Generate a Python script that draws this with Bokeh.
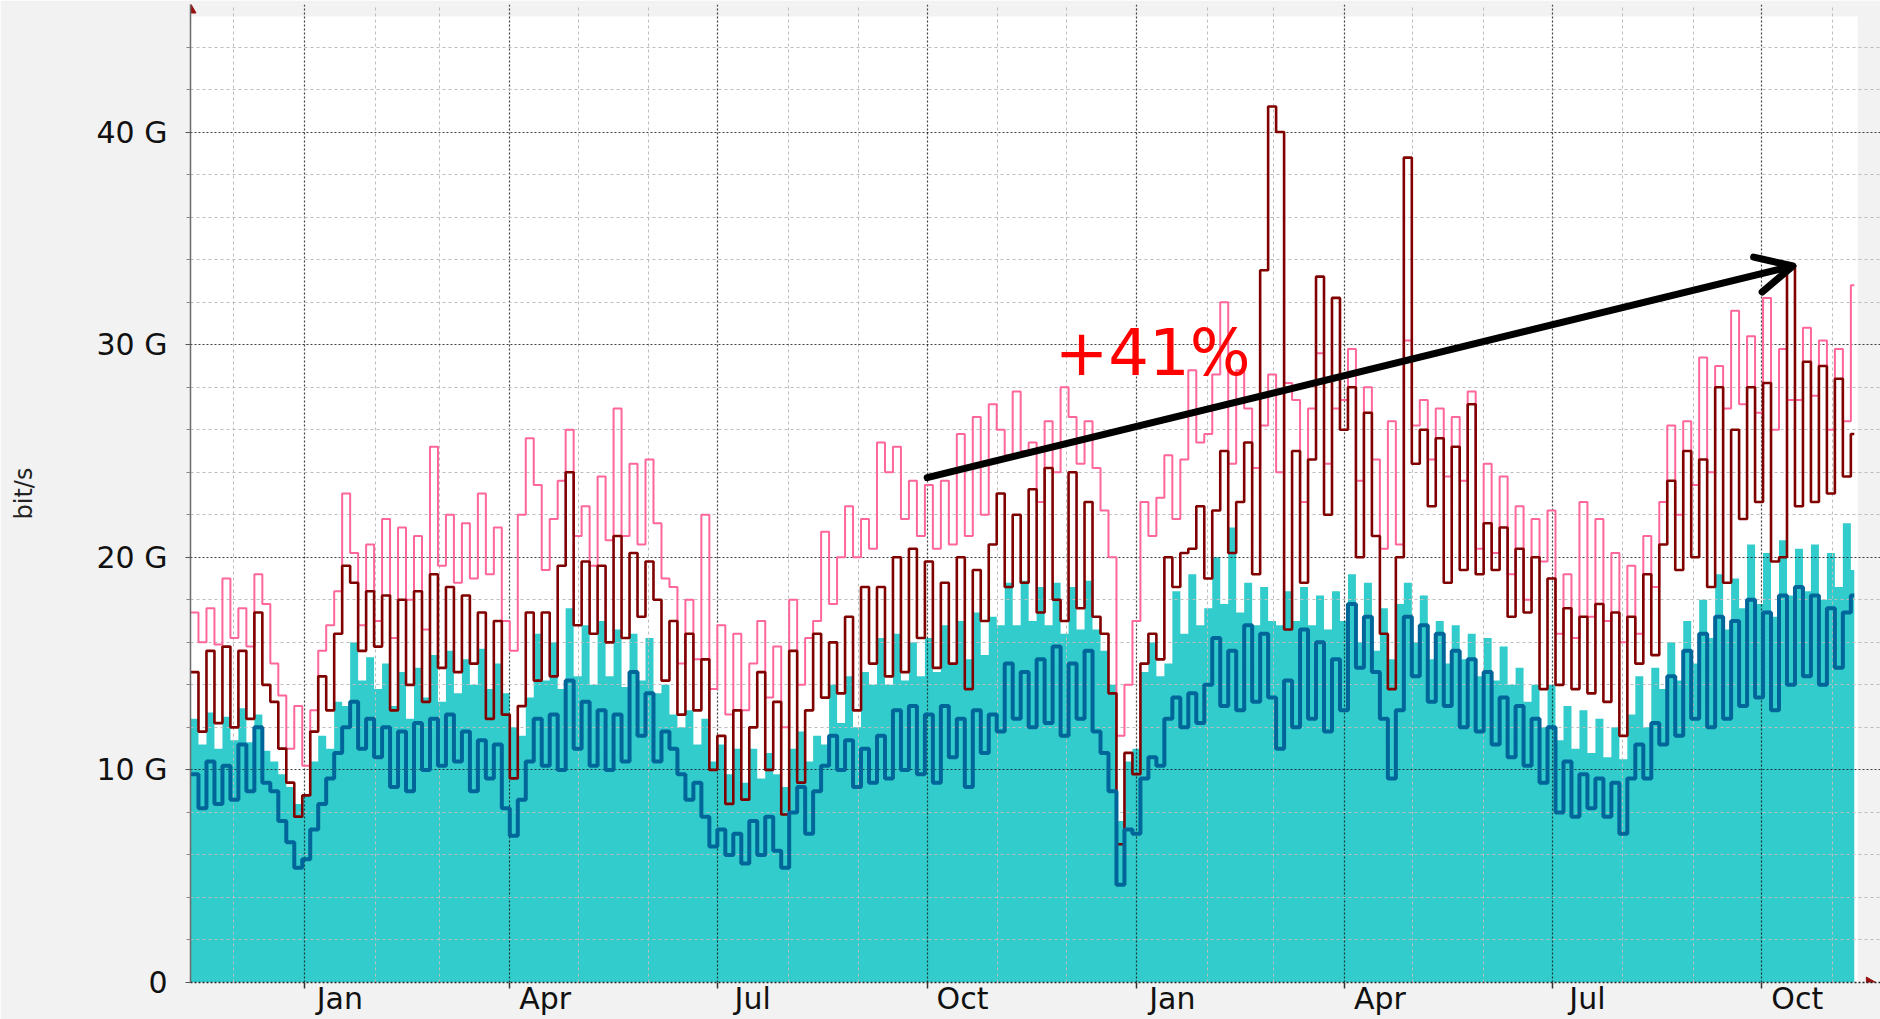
import numpy as np
import pandas as pd
from bokeh.plotting import figure
from bokeh.models import Range1d, FixedTicker, Label, Arrow, OpenHead
from bokeh.embed import file_html
from bokeh.resources import INLINE

# ---------------- data ----------------
START = pd.Timestamp("2010-11-12")
END = pd.Timestamp("2012-11-10 12:00")
STEP_DAYS = 3.5  # one value every half week

# inbound maximum (cyan area), G bit/s
max_in = [
    12.4, 11.2, 12.7, 11.0, 12.5, 11.4, 12.9, 11.3, 12.6, 10.9,
    10.4, 9.8, 9.2, 8.4, 8.8, 10.4, 11.6, 11.0, 13.2, 13.0,
    16.0, 14.2, 15.3, 13.8, 15.0, 13.0, 14.6, 12.4, 14.8, 13.4,
    15.4, 13.2, 15.6, 13.6, 15.2, 14.0, 15.7, 13.8, 15.0, 13.6,
    12.0, 11.6, 13.4, 16.4, 14.2, 16.0, 13.8, 17.6, 14.4, 16.8,
    14.0, 17.0, 14.4, 16.6, 13.9, 16.4, 14.2, 16.2, 13.6, 14.0,
    12.6, 12.0, 12.8, 11.2, 12.4, 10.4, 11.2, 9.8, 11.0, 9.4,
    11.0, 9.6, 10.8, 9.8, 9.2, 11.0, 11.8, 10.4, 11.6, 11.2,
    14.0, 12.2, 14.4, 12.0, 14.6, 14.0, 16.2, 14.0, 16.4, 14.2,
    16.0, 14.4, 16.2, 14.6, 16.8, 15.0, 17.0, 15.2, 17.4, 15.4,
    17.2, 16.8, 18.8, 16.8, 18.9, 17.0, 18.6, 16.8, 18.8, 16.4,
    18.6, 16.6, 18.9, 16.6, 15.6, 14.0, 7.6, 10.4, 11.0, 14.6,
    16.0, 14.4, 15.0, 18.4, 16.4, 19.2, 16.8, 17.6, 20.0, 17.8,
    21.4, 17.4, 18.8, 16.8, 18.6, 17.0, 16.8, 18.4, 17.0, 18.6,
    16.8, 18.2, 16.6, 18.4, 17.0, 19.2, 16.0, 18.8, 15.6, 17.6,
    15.2, 17.8, 18.8, 16.0, 18.2, 15.2, 17.0, 15.0, 16.8, 15.2,
    16.4, 14.4, 16.2, 14.2, 15.8, 14.0, 14.8, 13.2, 14.0, 12.0,
    14.0, 11.4, 13.0, 11.0, 12.8, 10.8, 12.4, 10.6, 12.0, 10.5,
    12.6, 14.4, 12.0, 14.8, 13.8, 16.0, 14.2, 17.0, 15.0, 18.0,
    16.2, 19.2, 16.6, 19.0, 17.6, 20.6, 17.8, 20.2, 17.2, 20.8,
    18.2, 20.4, 18.4, 20.6, 18.0, 20.2, 18.6, 21.6, 19.4,
]

# inbound average (dark blue line)
avg_in = [
    9.8, 8.2, 10.4, 8.4, 10.2, 8.6, 11.2, 9.0, 12.0, 9.4,
    9.0, 7.6, 6.6, 5.4, 5.8, 7.2, 8.4, 9.6, 10.8, 12.0,
    13.2, 11.0, 12.4, 10.6, 12.0, 9.2, 11.8, 9.0, 12.2, 10.0,
    12.4, 10.2, 12.6, 10.4, 11.8, 9.0, 11.4, 9.6, 11.2, 8.2,
    6.9, 8.6, 10.4, 12.4, 10.2, 12.6, 10.0, 14.2, 11.0, 13.2,
    10.2, 12.8, 10.0, 12.6, 10.4, 14.6, 11.6, 13.6, 10.4, 11.8,
    11.0, 9.8, 8.6, 9.4, 7.8, 6.4, 7.2, 6.0, 7.0, 5.6,
    7.6, 6.0, 7.8, 6.2, 5.4, 8.0, 9.2, 7.0, 9.0, 10.2,
    11.6, 10.0, 11.4, 9.2, 11.0, 9.4, 11.6, 9.6, 12.8, 10.0,
    13.0, 9.8, 12.6, 9.4, 13.0, 10.6, 12.4, 9.2, 12.8, 10.8,
    12.6, 11.8, 15.0, 12.4, 14.6, 12.0, 15.2, 12.2, 15.8, 11.6,
    15.0, 12.4, 15.6, 11.8, 10.8, 9.0, 4.6, 7.2, 7.0, 9.6,
    10.6, 10.2, 12.4, 13.4, 12.0, 13.6, 12.2, 14.0, 16.2, 13.0,
    15.6, 12.8, 16.8, 13.2, 16.4, 13.4, 11.0, 14.2, 12.0, 16.6,
    12.4, 16.0, 11.8, 15.2, 12.8, 17.8, 14.8, 17.2, 14.6, 12.4,
    9.6, 12.8, 17.2, 14.4, 16.8, 13.2, 16.4, 13.0, 15.6, 12.0,
    15.2, 11.8, 14.6, 11.2, 13.4, 10.6, 13.0, 10.2, 12.4, 9.4,
    12.0, 8.0, 10.4, 7.8, 9.8, 8.2, 9.6, 7.8, 9.4, 7.0,
    9.6, 11.2, 9.6, 12.2, 11.2, 14.4, 11.6, 15.6, 12.4, 16.4,
    12.0, 17.2, 12.4, 17.0, 13.0, 18.0, 13.4, 17.4, 12.8, 18.2,
    14.0, 18.6, 14.4, 18.2, 14.0, 17.6, 14.8, 17.4, 18.2,
]

# outbound maximum (pink line)
max_out = [
    17.4, 16.0, 17.6, 15.9, 19.0, 16.2, 17.6, 15.8, 19.2, 17.8,
    15.0, 13.5, 11.0, 13.0, 10.2, 12.8, 15.6, 16.8, 18.4, 23.0,
    20.2, 16.8, 20.6, 17.0, 21.8, 16.2, 21.4, 18.0, 21.0, 16.6,
    25.2, 19.6, 22.0, 18.8, 21.6, 19.0, 23.0, 19.2, 21.4, 17.0,
    15.6, 22.0, 25.6, 23.4, 19.4, 21.8, 23.6, 26.0, 21.0, 22.4,
    19.6, 23.8, 20.8, 27.0, 21.0, 24.4, 20.6, 24.6, 21.6, 19.0,
    18.6, 15.0, 18.0, 15.2, 22.0, 13.8, 16.8, 12.6, 16.4, 12.8,
    15.0, 17.0, 13.4, 15.8, 12.0, 18.0, 14.0, 16.2, 17.0, 21.2,
    17.8, 20.0, 22.4, 20.0, 21.8, 20.4, 25.4, 24.0, 25.2, 21.8,
    23.6, 21.0, 23.4, 20.4, 23.6, 20.6, 25.8, 21.0, 26.6, 22.0,
    27.2, 26.0, 24.8, 27.8, 25.0, 25.4, 22.6, 26.4, 24.0, 28.0,
    26.6, 24.4, 26.4, 24.2, 22.2, 20.0, 11.6, 14.0, 17.0, 22.6,
    21.0, 22.8, 24.8, 21.8, 24.6, 28.8, 25.4, 25.8, 28.6, 32.0,
    24.4, 28.8, 27.0, 24.2, 26.2, 28.6, 24.0, 28.2, 27.4, 22.6,
    27.0, 29.6, 24.4, 27.0, 27.4, 29.8, 23.6, 28.0, 24.6, 20.4,
    26.4, 20.6, 30.2, 26.2, 27.4, 24.6, 27.0, 23.8, 26.6, 23.6,
    27.8, 20.4, 24.4, 20.2, 23.8, 19.2, 22.4, 18.0, 21.8, 19.8,
    22.2, 16.4, 19.2, 16.2, 22.6, 17.2, 21.8, 17.0, 20.2, 16.0,
    19.6, 16.4, 21.0, 18.6, 22.6, 26.2, 22.0, 26.4, 23.4, 29.4,
    24.0, 29.0, 27.0, 31.6, 27.2, 30.4, 26.8, 32.2, 26.0, 29.8,
    27.4, 27.4, 30.8, 27.6, 30.2, 26.0, 29.8, 26.4, 32.8,
]

# outbound average (dark red line)
avg_out = [
    14.6, 11.8, 15.6, 12.2, 15.8, 12.0, 15.6, 12.4, 17.4, 14.0,
    13.2, 11.0, 9.4, 7.8, 8.8, 11.8, 14.4, 12.8, 16.4, 19.6,
    18.8, 15.6, 18.4, 15.8, 18.2, 12.8, 18.0, 14.0, 18.4, 13.2,
    19.2, 14.8, 18.6, 14.6, 18.2, 15.0, 17.4, 12.4, 17.0, 12.6,
    9.6, 13.0, 17.4, 14.2, 17.4, 14.4, 19.6, 24.0, 16.8, 19.8,
    16.4, 19.6, 16.0, 21.0, 16.2, 20.2, 17.2, 19.8, 18.0, 14.2,
    17.0, 12.6, 16.4, 12.8, 15.2, 10.0, 11.6, 8.4, 12.8, 8.6,
    12.0, 14.6, 10.0, 13.2, 7.9, 15.6, 9.4, 12.8, 16.4, 13.4,
    16.0, 13.6, 17.2, 12.8, 18.6, 15.0, 18.6, 14.4, 20.0, 14.6,
    20.4, 16.2, 19.8, 14.8, 18.8, 15.0, 20.0, 13.8, 19.4, 17.0,
    20.6, 23.0, 18.6, 22.0, 18.8, 23.2, 17.4, 24.2, 18.0, 17.0,
    24.0, 17.6, 22.6, 17.2, 16.4, 13.6, 6.5, 10.8, 9.8, 15.0,
    16.4, 15.2, 20.0, 18.6, 20.2, 20.4, 22.4, 19.0, 22.2, 25.0,
    20.2, 22.6, 25.4, 19.2, 33.5, 41.2, 40.0, 16.6, 25.0, 18.8,
    24.6, 33.2, 22.0, 32.2, 26.0, 28.0, 20.0, 26.8, 21.0, 16.4,
    13.8, 20.0, 38.8, 24.4, 26.0, 22.4, 25.6, 18.8, 25.2, 19.4,
    27.2, 19.2, 21.6, 19.4, 21.4, 17.2, 20.4, 17.4, 20.0, 13.8,
    19.0, 14.0, 17.6, 13.8, 17.2, 13.6, 17.8, 13.2, 17.4, 11.6,
    17.2, 15.0, 19.2, 15.4, 20.6, 23.6, 19.4, 25.0, 20.0, 24.6,
    18.6, 28.0, 18.8, 26.0, 21.8, 28.0, 22.6, 28.2, 19.8, 20.0,
    33.6, 22.4, 29.2, 22.6, 29.0, 23.0, 28.4, 23.8, 25.8,
]

quarter_starts = ["2011-01-01", "2011-04-01", "2011-07-01", "2011-10-01",
                  "2012-01-01", "2012-04-01", "2012-07-01", "2012-10-01"]
quarter_labels = ["Jan", "Apr", "Jul", "Oct", "Jan", "Apr", "Jul", "Oct"]
y_ticks = [0, 10, 20, 30, 40]
y_tick_labels = ["0", "10 G", "20 G", "30 G", "40 G"]
y_minor_step = 2
y_label = "bit/s"
growth_text = "+41%"
trend_start = ("2011-10-01", 23.75)
trend_end = ("2012-10-14 14:00", 33.7)
text_anchor = ("2011-11-25 22:00", 29.6)

for s in (max_in, avg_in, max_out, avg_out):
    assert len(s) == len(max_in)


def day(d):
    return (pd.Timestamp(d) - START) / pd.Timedelta(days=1)


n = len(max_in)
edges = np.append(np.arange(n) * STEP_DAYS, day(END))


def ext(a):
    return np.append(np.asarray(a, dtype=float), a[-1])


# ---------------- colours ----------------
CYAN = "#33CCCC"
BLUE = "#006699"
PINK = "#FF6699"
DRED = "#800000"
BG = "#F2F2F2"
ARROW_RED = "#991111"

# ---------------- figure ----------------
X_END = 741.0      # range beyond the data so the axis arrow fits
Y_TOP = 46.0
WHITE_TOP = 45.44
WHITE_END = 731.0

p = figure(width=1880, height=1019,
           x_range=Range1d(0, X_END), y_range=Range1d(0, Y_TOP),
           output_backend="svg", toolbar_location=None,
           min_border_left=190, min_border_right=0,
           min_border_top=4, min_border_bottom=37,
           background_fill_color=BG, border_fill_color=BG)
p.outline_line_color = None

# white chart canvas
bg = p.quad(left=[0], right=[WHITE_END], bottom=[0], top=[WHITE_TOP],
            fill_color="white", line_color=None)
bg.level = "image"

area = p.varea_step(x=edges, y1=np.zeros(n + 1), y2=ext(max_in),
                    step_mode="after", fill_color=CYAN)
area.level = "image"

p.step(edges, ext(max_out), mode="after", line_color=PINK, line_width=2.0)
p.step(edges, ext(avg_out), mode="after", line_color=DRED, line_width=2.6)
p.step(edges, ext(avg_in), mode="after", line_color=BLUE, line_width=4.0)

# ---------------- grids ----------------
q_days = [day(q) for q in quarter_starts]
month_days = [day(m) for m in pd.date_range("2010-12-01", "2012-11-01", freq="MS")]
month_minor = [m for m in month_days if m not in q_days]
y_minor = [v for v in range(y_minor_step, 46, y_minor_step) if v % 10 != 0]

p.xgrid.ticker = FixedTicker(ticks=q_days, minor_ticks=month_minor)
p.ygrid.ticker = FixedTicker(ticks=y_ticks, minor_ticks=y_minor)
for g in (p.xgrid, p.ygrid):
    g.grid_line_color = "#111111"
    g.grid_line_alpha = 0.8
    g.grid_line_dash = "2 2"
    g.grid_line_width = 1.2
    g.minor_grid_line_color = "#BDBDBD"
    g.minor_grid_line_dash = "3 3"
    g.minor_grid_line_width = 1

# ---------------- axes ----------------
label_days = [day(q) + 15.5 for q in quarter_starts]
xa = p.xaxis[0]
xa.ticker = FixedTicker(ticks=label_days, minor_ticks=q_days)
xa.major_label_overrides = {d: l for d, l in zip(label_days, quarter_labels)}
xa.major_tick_out = 0
xa.major_tick_in = 0
xa.minor_tick_out = 6
xa.minor_tick_in = 0
xa.minor_tick_line_color = "#333333"
xa.minor_tick_line_width = 1.5
xa.major_label_standoff = -8
xa.major_label_text_font = "DejaVu Sans"
xa.major_label_text_font_size = "30px"
xa.major_label_text_color = "#111111"
xa.axis_line_color = "#222222"
xa.axis_line_dash = "2 2"
xa.axis_line_width = 1.5

ya = p.yaxis[0]
ya.ticker = FixedTicker(ticks=y_ticks, minor_ticks=y_minor)
ya.major_label_overrides = {t: l for t, l in zip(y_ticks, y_tick_labels)}
ya.major_tick_out = 5
ya.major_tick_in = 0
ya.minor_tick_out = 4
ya.minor_tick_in = 0
ya.major_tick_line_color = "#555555"
ya.minor_tick_line_color = "#888888"
ya.axis_line_color = "#6A6A6A"
ya.axis_line_width = 1.5
ya.major_label_standoff = 18
ya.major_label_text_font = "DejaVu Sans"
ya.major_label_text_font_size = "30px"
ya.major_label_text_color = "#111111"
ya.axis_label = y_label
ya.axis_label_text_font = "DejaVu Sans"
ya.axis_label_text_font_size = "24px"
ya.axis_label_text_font_style = "normal"
ya.axis_label_text_color = "#222222"
ya.axis_label_standoff = 56

# axis arrow heads (small triangles at the axis ends)
p.scatter(x=[0], y=[45.75], marker="triangle", size=11,
          fill_color=ARROW_RED, line_color=ARROW_RED)
p.scatter(x=[736.2], y=[0], marker="triangle", angle=-np.pi / 2, size=11,
          fill_color=ARROW_RED, line_color=ARROW_RED)

# ---------------- annotation ----------------
p.add_layout(Arrow(x_start=day(trend_start[0]), y_start=trend_start[1],
                   x_end=day(trend_end[0]), y_end=trend_end[1],
                   line_color="black", line_width=7, line_cap="round",
                   end=OpenHead(size=36, line_width=7, line_color="black",
                                line_cap="round", line_join="round")))
p.add_layout(Label(x=day(text_anchor[0]), y=text_anchor[1], text=growth_text,
                   text_font="DejaVu Sans", text_font_size="64px",
                   text_color="#FF0000", text_baseline="alphabetic"))

open("out.html", "w").write(file_html(p, INLINE))
